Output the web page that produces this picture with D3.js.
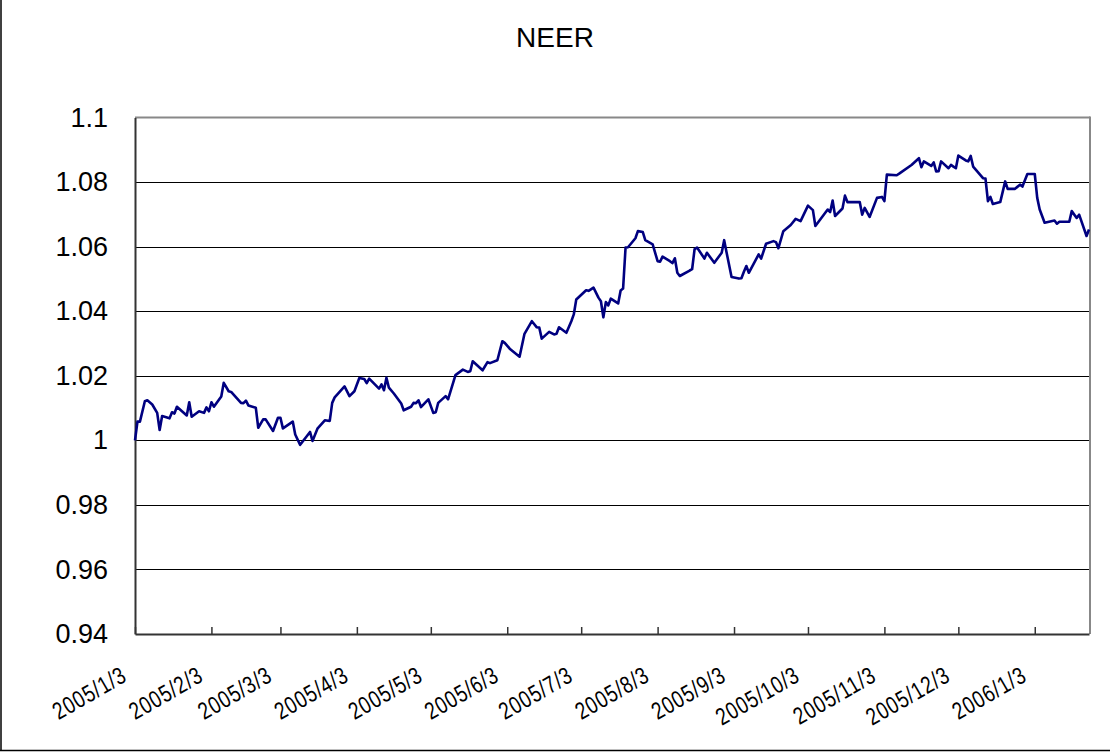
<!DOCTYPE html>
<html><head><meta charset="utf-8">
<script src="https://cdn.jsdelivr.net/npm/d3@7"></script>
<style>
html,body{margin:0;padding:0;background:#fff;}
svg{display:block;}
text{font-family:"Liberation Sans",Arial,sans-serif;fill:#000;}
</style></head>
<body>
<svg id="chart" width="1110" height="753"></svg>
<script>
const title = "NEER";
const dates = [
"2005-01-03","2005-01-04","2005-01-05","2005-01-07","2005-01-08","2005-01-10","2005-01-12","2005-01-13","2005-01-14","2005-01-17",
"2005-01-18","2005-01-19","2005-01-20","2005-01-24","2005-01-25","2005-01-26","2005-01-29","2005-01-31","2005-02-01","2005-02-02",
"2005-02-03","2005-02-04","2005-02-07","2005-02-08","2005-02-10","2005-02-11","2005-02-15","2005-02-16","2005-02-17","2005-02-18",
"2005-02-21","2005-02-22","2005-02-24","2005-02-25","2005-02-28","2005-03-02","2005-03-03","2005-03-04","2005-03-08","2005-03-09",
"2005-03-11","2005-03-15","2005-03-16","2005-03-18","2005-03-21","2005-03-23","2005-03-24","2005-03-25","2005-03-29","2005-03-31",
"2005-04-02","2005-04-04","2005-04-06","2005-04-07","2005-04-08","2005-04-12","2005-04-13","2005-04-14","2005-04-15","2005-04-16",
"2005-04-18","2005-04-21","2005-04-22","2005-04-25","2005-04-26","2005-04-27","2005-04-28","2005-04-29","2005-05-02","2005-05-04",
"2005-05-05","2005-05-06","2005-05-09","2005-05-10","2005-05-13","2005-05-16","2005-05-18","2005-05-19","2005-05-20","2005-05-24",
"2005-05-26","2005-05-27","2005-05-30","2005-06-01","2005-06-02","2005-06-04","2005-06-08","2005-06-10","2005-06-13","2005-06-15",
"2005-06-16","2005-06-17","2005-06-20","2005-06-22","2005-06-23","2005-06-24","2005-06-27","2005-06-29","2005-06-30","2005-07-01",
"2005-07-05","2005-07-06","2005-07-08","2005-07-10","2005-07-11","2005-07-12","2005-07-13","2005-07-14","2005-07-15","2005-07-18",
"2005-07-19","2005-07-20","2005-07-21","2005-07-22","2005-07-25","2005-07-26","2005-07-28","2005-07-29","2005-08-01","2005-08-03",
"2005-08-04","2005-08-05","2005-08-08","2005-08-09","2005-08-10","2005-08-11","2005-08-12","2005-08-16","2005-08-17","2005-08-18",
"2005-08-19","2005-08-22","2005-08-23","2005-08-26","2005-08-29","2005-08-30","2005-08-31","2005-09-02","2005-09-05","2005-09-06",
"2005-09-07","2005-09-08","2005-09-09","2005-09-13","2005-09-14","2005-09-16","2005-09-19","2005-09-20","2005-09-21","2005-09-23",
"2005-09-26","2005-09-28","2005-09-30","2005-10-03","2005-10-05","2005-10-06","2005-10-11","2005-10-12","2005-10-13","2005-10-14",
"2005-10-17","2005-10-18","2005-10-19","2005-10-24","2005-10-25","2005-10-26","2005-10-28","2005-10-31","2005-11-02","2005-11-03",
"2005-11-04","2005-11-08","2005-11-09","2005-11-14","2005-11-17","2005-11-18","2005-11-19","2005-11-22","2005-11-23","2005-11-24",
"2005-11-25","2005-11-26","2005-11-29","2005-11-30","2005-12-01","2005-12-02","2005-12-03","2005-12-06","2005-12-07","2005-12-08",
"2005-12-09","2005-12-13","2005-12-14","2005-12-15","2005-12-16","2005-12-17","2005-12-20","2005-12-22","2005-12-23","2005-12-26",
"2005-12-28","2005-12-29","2005-12-31","2006-01-03","2006-01-04","2006-01-05","2006-01-07","2006-01-11","2006-01-12","2006-01-13",
"2006-01-17","2006-01-18","2006-01-20","2006-01-21","2006-01-24","2006-01-25"
];
const neer = [
1.0000,1.0058,1.0058,1.0121,1.0124,1.0111,1.0085,1.0032,1.0075,1.0068,
1.0087,1.0083,1.0104,1.0077,1.0118,1.0073,1.0090,1.0085,1.0102,1.0090,
1.0118,1.0104,1.0136,1.0178,1.0152,1.0150,1.0116,1.0115,1.0123,1.0108,
1.0101,1.0039,1.0065,1.0065,1.0029,1.0070,1.0070,1.0037,1.0058,1.0018,
0.9986,1.0026,0.9998,1.0036,1.0062,1.0060,1.0116,1.0133,1.0167,1.0137,
1.0152,1.0193,1.0190,1.0177,1.0191,1.0160,1.0173,1.0155,1.0194,1.0163,
1.0145,1.0114,1.0093,1.0104,1.0116,1.0115,1.0124,1.0103,1.0127,1.0085,
1.0087,1.0116,1.0137,1.0127,1.0202,1.0219,1.0212,1.0214,1.0245,1.0217,
1.0242,1.0239,1.0248,1.0307,1.0302,1.0284,1.0259,1.0330,1.0369,1.0350,
1.0349,1.0315,1.0336,1.0328,1.0330,1.0350,1.0333,1.0369,1.0390,1.0436,
1.0465,1.0463,1.0473,1.0442,1.0431,1.0381,1.0428,1.0418,1.0439,1.0424,
1.0464,1.0470,1.0597,1.0598,1.0626,1.0648,1.0645,1.0620,1.0607,1.0555,
1.0553,1.0569,1.0555,1.0549,1.0564,1.0519,1.0509,1.0526,1.0530,1.0592,
1.0597,1.0563,1.0581,1.0550,1.0581,1.0620,1.0581,1.0506,1.0501,1.0502,
1.0522,1.0540,1.0519,1.0576,1.0563,1.0609,1.0617,1.0614,1.0595,1.0648,
1.0667,1.0686,1.0679,1.0727,1.0713,1.0664,1.0715,1.0707,1.0743,1.0695,
1.0718,1.0758,1.0738,1.0738,1.0699,1.0720,1.0692,1.0751,1.0754,1.0741,
1.0823,1.0821,1.0826,1.0853,1.0874,1.0846,1.0864,1.0850,1.0861,1.0833,
1.0834,1.0864,1.0843,1.0853,1.0848,1.0843,1.0882,1.0867,1.0864,1.0881,
1.0848,1.0812,1.0811,1.0741,1.0754,1.0732,1.0738,1.0802,1.0779,1.0779,
1.0792,1.0786,1.0825,1.0825,1.0751,1.0715,1.0674,1.0681,1.0671,1.0677,
1.0677,1.0710,1.0689,1.0699,1.0633,1.0653
];
const yTicks = [0.94,0.96,0.98,1,1.02,1.04,1.06,1.08,1.1];
const xTickLabels = ["2005/1/3","2005/2/3","2005/3/3","2005/4/3","2005/5/3","2005/6/3","2005/7/3","2005/8/3","2005/9/3","2005/10/3","2005/11/3","2005/12/3","2006/1/3"];

const parse = d3.timeParse("%Y-%m-%d");
const parseLabel = d3.timeParse("%Y/%m/%d");
const data = dates.map((d,i)=>({date:parse(d), v:neer[i]}));

const svg = d3.select("#chart");
const L = 135, R = 1089, T = 117.5, B = 634;

const x = d3.scaleTime()
  .domain([parse("2005-01-03"), parse("2006-01-25")])
  .range([L, R]);
const y = d3.scaleLinear().domain([0.94, 1.1]).range([B, T]);

// outer frame (left and bottom visible)
svg.append("line").attr("x1",1).attr("x2",1).attr("y1",0).attr("y2",751).attr("stroke","#000").attr("stroke-width",1.5);
svg.append("line").attr("x1",0).attr("x2",1110).attr("y1",750.5).attr("y2",750.5).attr("stroke","#000").attr("stroke-width",1.5);

// title
svg.append("text").attr("x",555).attr("y",47).attr("text-anchor","middle")
  .attr("font-size","28px").text(title);

// gridlines
svg.append("g").selectAll("line").data(yTicks.filter(t=>t>0.94 && t<1.1)).join("line")
  .attr("x1",L).attr("x2",R).attr("y1",d=>Math.round(y(d))+0.5).attr("y2",d=>Math.round(y(d))+0.5)
  .attr("stroke","#000").attr("stroke-width",1);

// plot border top/right gray
svg.append("line").attr("x1",L).attr("x2",R+1).attr("y1",T).attr("y2",T).attr("stroke","#888").attr("stroke-width",2);
svg.append("line").attr("x1",R+1).attr("x2",R+1).attr("y1",T-1).attr("y2",B).attr("stroke","#888").attr("stroke-width",2);

// y axis
const yAxis = d3.axisLeft(y).tickValues(yTicks).tickSize(0).tickPadding(27)
  .tickFormat(d=>d3.format("")(+d.toFixed(2)));
const gy = svg.append("g").attr("transform",`translate(${L},0)`).call(yAxis);
gy.select(".domain").attr("stroke","#333").attr("stroke-width",2);
gy.selectAll("text").attr("font-size","27px").attr("font-family","'Liberation Sans',Arial,sans-serif").attr("fill","#000");

// x axis
const xTickDates = xTickLabels.map(s=>parseLabel(s));
const xAxis = d3.axisBottom(x).tickValues(xTickDates).tickSizeInner(-7).tickSizeOuter(0)
  .tickFormat((d,i)=>xTickLabels[i]);
const gx = svg.append("g").attr("transform",`translate(0,${B})`).call(xAxis);
gx.select(".domain").attr("stroke","#333").attr("stroke-width",2);
gx.selectAll(".tick line").attr("stroke","#333").attr("stroke-width",1.5);
gx.selectAll("text")
  .attr("font-size","21px").attr("font-family","'Liberation Sans',Arial,sans-serif")
  .attr("fill","#000").attr("letter-spacing","1px")
  .attr("text-anchor","end").attr("dy",null)
  .attr("transform","translate(-7,46) rotate(-30) scale(0.9,1.15)")
  .attr("y",0).attr("x",0);

// line
const line = d3.line().x(d=>x(d.date)).y(d=>y(d.v));
svg.append("path").datum(data).attr("d",line)
  .attr("fill","none").attr("stroke","#000080").attr("stroke-width",2.6).attr("stroke-linejoin","round");
</script>
</body></html>
